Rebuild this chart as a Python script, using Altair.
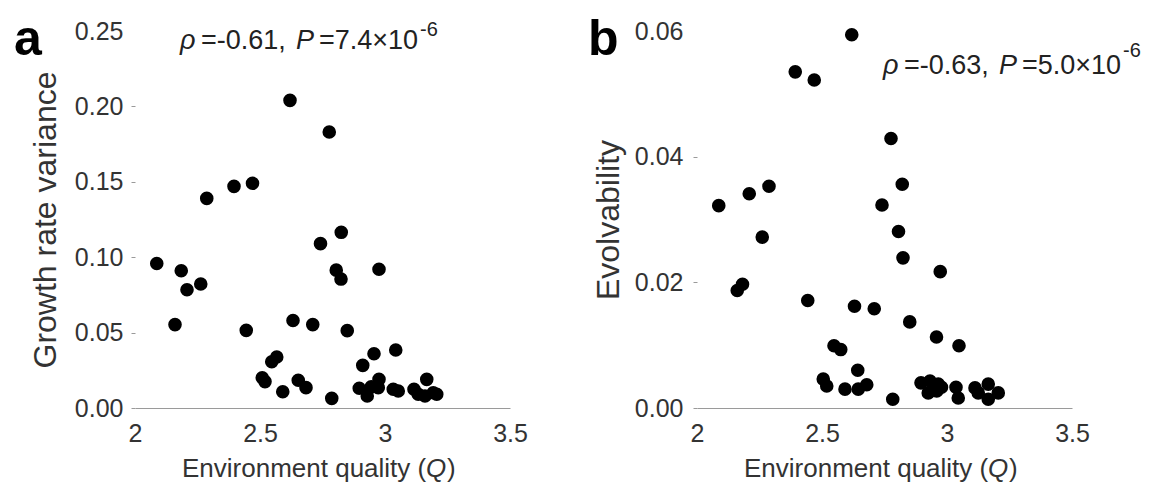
import altair as alt
import pandas as pd

FONT = "Liberation Sans"
TXT = "#333333"

# Panel a: environment quality vs growth rate variance
q_a = [2.087, 2.160, 2.185, 2.208, 2.263, 2.287, 2.396, 2.470, 2.445, 2.620,
       2.777, 2.825, 2.742, 2.805, 2.824, 2.976, 2.632, 2.711, 2.849, 3.043,
       2.956, 2.911, 2.567, 2.547, 2.509, 2.520, 2.591, 2.653, 2.684, 2.787,
       2.897, 2.929, 2.945, 2.976, 2.973, 3.033, 3.053, 3.116, 3.133, 3.167,
       3.160, 3.193, 3.207]
var_a = [0.0958, 0.0553, 0.0910, 0.0784, 0.0822, 0.1390, 0.1470, 0.1490, 0.0515, 0.2040,
         0.1830, 0.1165, 0.1090, 0.0914, 0.0855, 0.0920, 0.0580, 0.0553, 0.0513, 0.0385,
         0.0360, 0.0283, 0.0338, 0.0307, 0.0201, 0.0175, 0.0108, 0.0184, 0.0135, 0.0064,
         0.0131, 0.0080, 0.0140, 0.0190, 0.0135, 0.0124, 0.0113, 0.0124, 0.0091, 0.0190,
         0.0080, 0.0101, 0.0091]

# Panel b: environment quality vs evolvability
q_b = [2.087, 2.161, 2.182, 2.209, 2.261, 2.288, 2.393, 2.469, 2.443, 2.619,
       2.776, 2.821, 2.740, 2.806, 2.824, 2.973, 2.630, 2.709, 2.851, 3.048,
       2.958, 2.548, 2.575, 2.505, 2.519, 2.592, 2.643, 2.645, 2.679, 2.783,
       2.896, 2.932, 2.925, 2.965, 2.959, 2.978, 3.036, 3.045, 3.112, 3.125,
       3.165, 3.165, 3.205]
evo_b = [0.0322, 0.0187, 0.0197, 0.0341, 0.0272, 0.0353, 0.0535, 0.0522, 0.0171, 0.0594,
         0.0429, 0.0356, 0.0323, 0.0281, 0.0239, 0.0217, 0.0162, 0.0158, 0.0137, 0.0099,
         0.0113, 0.0099, 0.0093, 0.0046, 0.0035, 0.0030, 0.0060, 0.0030, 0.0037, 0.0014,
         0.0040, 0.0043, 0.0024, 0.0038, 0.0027, 0.0033, 0.0033, 0.0016, 0.0032, 0.0024,
         0.0038, 0.0014, 0.0024]

x_ticks = [2, 2.5, 3, 3.5]
ya_ticks = [0, 0.05, 0.10, 0.15, 0.20, 0.25]
yb_ticks = [0, 0.02, 0.04, 0.06]

W, H = 375, 377


def txt(s, x, y, size, italic=False, bold=False, color=TXT, align="left"):
    return alt.Chart(pd.DataFrame({"k": [0]})).mark_text(
        align=align, baseline="alphabetic", font=FONT, fontSize=size,
        fontStyle="italic" if italic else "normal",
        fontWeight="bold" if bold else "normal", color=color,
    ).encode(x=alt.value(x), y=alt.value(y), text=alt.value(s))


def panel(df, ycol, ytitle, yticks, ymax, lab_pad, title_pad, letter, letter_x,
          ann_x, r1, p2, ann_y, sup_y):
    xaxis = alt.Axis(values=x_ticks, format="~g", title=None, grid=False,
                     ticks=False, tickSize=0, domain=True, domainColor="#9a9a9a",
                     domainWidth=1, labelFontSize=25, labelFont=FONT,
                     labelColor=TXT, labelPadding=13, labelFlush=False)
    yaxis = alt.Axis(values=yticks, format=".2f", title=ytitle, grid=False,
                     domain=False, ticks=True, tickSize=4,
                     tickColor=alt.condition(f"datum.value >= {ymax}",
                                             alt.value("transparent"),
                                             alt.value("#9a9a9a")),
                     labelFontSize=25, labelFont=FONT, labelColor=TXT,
                     labelPadding=lab_pad, labelFlush=False, titleFontSize=32,
                     titleFont=FONT, titleFontWeight="normal", titleColor=TXT,
                     titlePadding=title_pad)
    pts = alt.Chart(df).mark_circle(size=185, color="black", opacity=1).encode(
        x=alt.X("Q:Q", scale=alt.Scale(domain=[2, 3.5], nice=False, zero=False),
                axis=xaxis),
        y=alt.Y(f"{ycol}:Q", scale=alt.Scale(domain=[0, ymax], nice=False),
                axis=yaxis),
    )
    layers = [pts]
    # x-axis title with italic Q
    layers.append(txt("Environment quality (", 47, 446, 26))
    layers.append(txt("Q", 291, 446, 26, italic=True))
    layers.append(txt(")", 312, 446, 26))
    # panel letter
    layers.append(txt(letter, letter_x, 24, 50, bold=True, color="black"))
    # statistics annotation
    c = "#222222"
    layers.append(txt("\u03c1", ann_x, ann_y, 27, italic=True, color=c))
    layers.append(txt(r1, ann_x + 21, ann_y, 27, color=c))
    layers.append(txt("P", ann_x + 116, ann_y, 27, italic=True, color=c))
    layers.append(txt(p2, ann_x + 139, ann_y, 27, color=c))
    layers.append(txt("-6", ann_x + 240, sup_y, 20, color=c))
    return alt.layer(*layers).properties(width=W, height=H)


df_a = pd.DataFrame({"Q": q_a, "v": var_a})
df_b = pd.DataFrame({"Q": q_b, "v": evo_b})

pa = panel(df_a, "v", "Growth rate variance", ya_ticks, 0.25, 8, 12, "a", -121,
           45, "=-0.61,", "=7.4\u00d710", 18, 5)
pb = panel(df_b, "v", "Evolvability", yb_ticks, 0.06, 10, 9, "b", -109,
           186, "=-0.63,", "=5.0\u00d710", 43, 26)

chart = alt.hconcat(pa, pb, spacing=187, bounds="flush").properties(
    padding={"left": 6, "top": 7, "right": 0, "bottom": 0}
).configure_view(stroke=None)

chart.save("out.html", embed_options={"renderer": "svg", "actions": False})
